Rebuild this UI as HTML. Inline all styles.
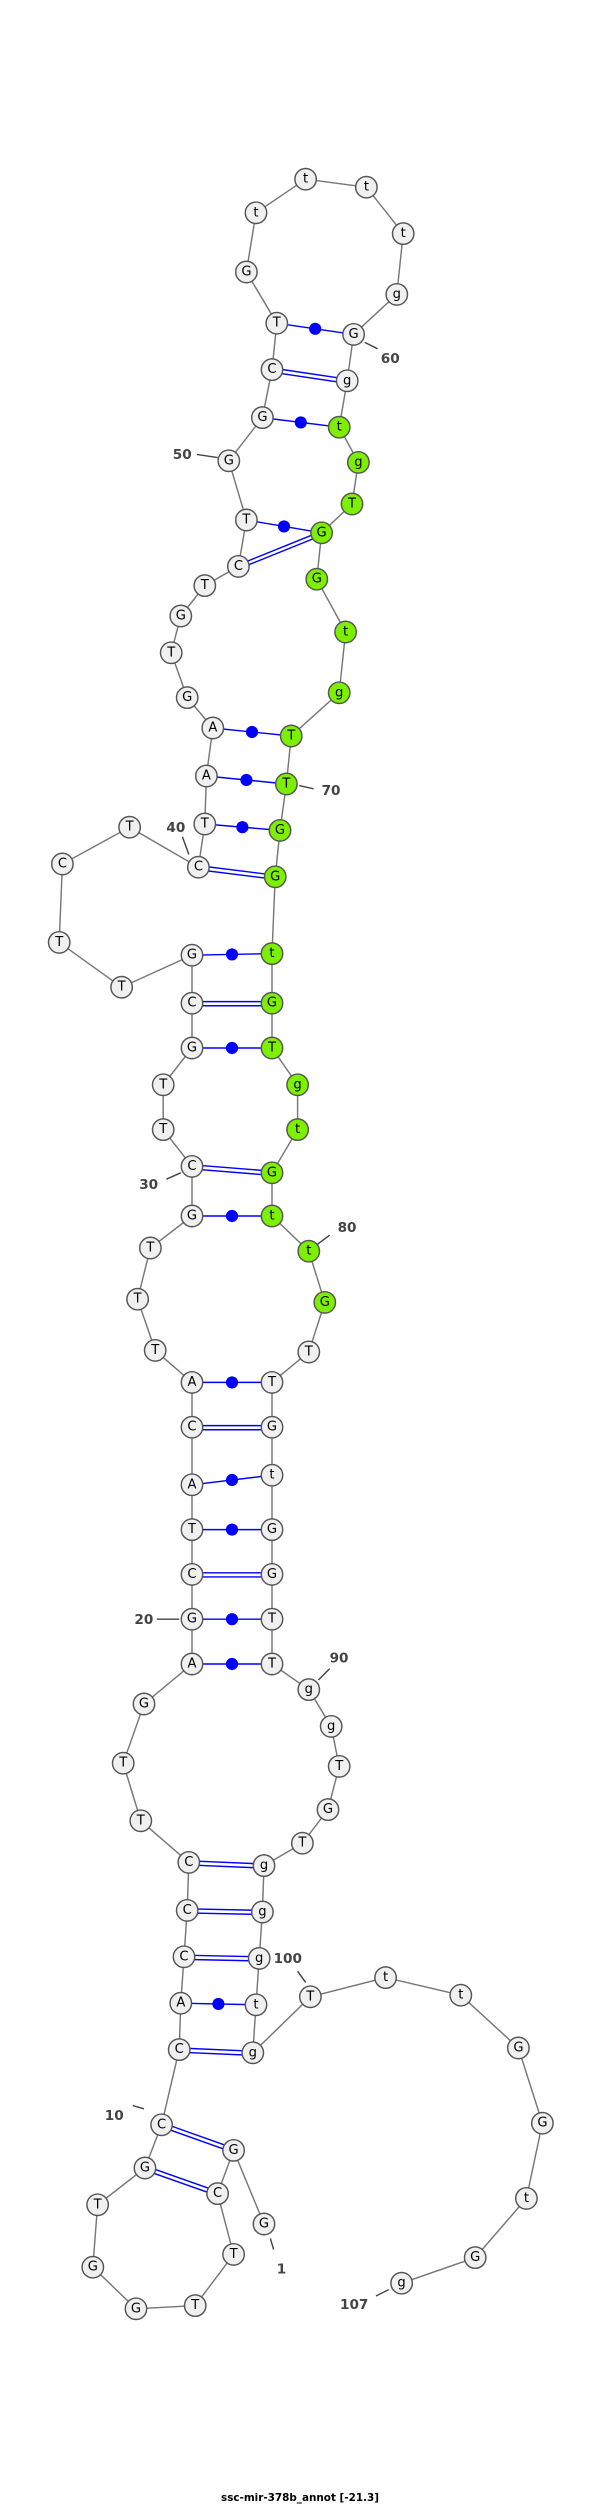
<!DOCTYPE html>
<html><head><meta charset="utf-8"><style>
html,body{margin:0;padding:0;background:#fff;width:600px;height:2506px;overflow:hidden}
svg{display:block}
.n circle{fill:#f0f0f0;stroke:#555;stroke-width:0.9}
.n circle.g{fill:#7cf000}
.n text{font-family:"DejaVu Sans","Liberation Sans",sans-serif;font-size:8.2px;fill:#000;text-anchor:middle;dominant-baseline:central}
.lb{font-family:"DejaVu Sans","Liberation Sans",sans-serif;font-size:8.5px;font-weight:bold;fill:#444}
.tk{stroke:#444;stroke-width:0.9}
.p{stroke:#0000ff;stroke-width:0.9;fill:none}
</style></head><body>
<svg width="600" height="2506" viewBox="0 0 375 1566.25" xmlns="http://www.w3.org/2000/svg">
<polyline fill="none" stroke="#777" stroke-width="0.9" points="165,1390 146,1344 136,1371 146,1409 122,1441 85,1443 58,1417 61,1378 90.6,1355 101,1328 112,1281 113,1252 115,1223 117,1194 118,1164 88,1138 77,1102 90,1065 120,1040 120,1012 120,984 120,956 120,928 120,892 120,864 97,844 86,812 94,780 120,760 120,729 102,706 102,678 120,655 120,627 120,597 76,617 37,589 39,540 81,517 124,542 128,515 129,485 133,455 117,436 107,408 113,385 128,366 149,354 154,325 143,288 164,261 170,231 173,202 154,170 160,133 191,112 229,117 252,146 248,184 221,209 217,238 212,267 224,289 220,315 201,333 198,362 216,395 212,433 182,460 179,490 175,519 172,548 170,596 170,627 170,655 186,678 186,706 170,733 170,760 193,782 203,814 193,845 170,864 170,892 170,922 170,956 170,984 170,1012 170,1040 193,1056 207,1079 212,1104 205,1131 189,1152 165,1166 164,1195 162,1224 160,1253 158,1283 194,1248 241,1236 288,1247 324,1280 339,1327 329,1374 297,1411 251,1427"/>
<g class="p">
<path d="M170,230 L217,237 M170,232.6 L217,239.6"/>
<path d="M149,353 L201,332 M149,355.6 L201,334.6"/>
<path d="M124,541 L172,547 M124,543.6 L172,549.6"/>
<path d="M120,626 L170,626 M120,628.6 L170,628.6"/>
<path d="M120,728 L170,732 M120,730.6 L170,734.6"/>
<path d="M120,891 L170,891 M120,893.6 L170,893.6"/>
<path d="M120,983 L170,983 M120,985.6 L170,985.6"/>
<path d="M118,1163 L165,1165 M118,1165.6 L165,1167.6"/>
<path d="M117,1193 L164,1194 M117,1195.6 L164,1196.6"/>
<path d="M115,1222 L162,1223 M115,1224.6 L162,1225.6"/>
<path d="M112,1280 L158,1282 M112,1282.6 L158,1284.6"/>
<path d="M101.45,1326.8 L146.45,1342.8 M100.55,1329.2 L145.55,1345.2"/>
<path d="M91.05,1353.8 L136.45,1369.8 M90.15,1356.2 L135.55,1372.2"/>
<path d="M173,202 L221,209 M164,261 L212,267 M154,325 L201,333 M133,455 L182,460 M129,485 L179,490 M128,515 L175,519 M120,597 L170,596 M120,655 L170,655 M120,760 L170,760 M120,864 L170,864 M120,928 L170,922 M120,956 L170,956 M120,1012 L170,1012 M120,1040 L170,1040 M113,1252 L160,1253"/>
</g>
<g fill="#0000ff">
<circle cx="197" cy="205.5" r="3.8"/><circle cx="188" cy="264" r="3.8"/><circle cx="177.5" cy="329" r="3.8"/>
<circle cx="157.5" cy="457.5" r="3.8"/><circle cx="154" cy="487.5" r="3.8"/><circle cx="151.5" cy="517" r="3.8"/>
<circle cx="145" cy="596.5" r="3.8"/><circle cx="145" cy="655" r="3.8"/><circle cx="145" cy="760" r="3.8"/>
<circle cx="145" cy="864" r="3.8"/><circle cx="145" cy="925" r="3.8"/><circle cx="145" cy="956" r="3.8"/>
<circle cx="145" cy="1012" r="3.8"/><circle cx="145" cy="1040" r="3.8"/><circle cx="136.5" cy="1252.5" r="3.8"/>
</g>
<g class="n">
<circle cx="165" cy="1390" r="6.7"/><text x="165" y="1390">G</text>
<circle cx="146" cy="1344" r="6.7"/><text x="146" y="1344">G</text>
<circle cx="136" cy="1371" r="6.7"/><text x="136" y="1371">C</text>
<circle cx="146" cy="1409" r="6.7"/><text x="146" y="1409">T</text>
<circle cx="122" cy="1441" r="6.7"/><text x="122" y="1441">T</text>
<circle cx="85" cy="1443" r="6.7"/><text x="85" y="1443">G</text>
<circle cx="58" cy="1417" r="6.7"/><text x="58" y="1417">G</text>
<circle cx="61" cy="1378" r="6.7"/><text x="61" y="1378">T</text>
<circle cx="90.6" cy="1355" r="6.7"/><text x="90.6" y="1355">G</text>
<circle cx="101" cy="1328" r="6.7"/><text x="101" y="1328">C</text>
<circle cx="112" cy="1281" r="6.7"/><text x="112" y="1281">C</text>
<circle cx="113" cy="1252" r="6.7"/><text x="113" y="1252">A</text>
<circle cx="115" cy="1223" r="6.7"/><text x="115" y="1223">C</text>
<circle cx="117" cy="1194" r="6.7"/><text x="117" y="1194">C</text>
<circle cx="118" cy="1164" r="6.7"/><text x="118" y="1164">C</text>
<circle cx="88" cy="1138" r="6.7"/><text x="88" y="1138">T</text>
<circle cx="77" cy="1102" r="6.7"/><text x="77" y="1102">T</text>
<circle cx="90" cy="1065" r="6.7"/><text x="90" y="1065">G</text>
<circle cx="120" cy="1040" r="6.7"/><text x="120" y="1040">A</text>
<circle cx="120" cy="1012" r="6.7"/><text x="120" y="1012">G</text>
<circle cx="120" cy="984" r="6.7"/><text x="120" y="984">C</text>
<circle cx="120" cy="956" r="6.7"/><text x="120" y="956">T</text>
<circle cx="120" cy="928" r="6.7"/><text x="120" y="928">A</text>
<circle cx="120" cy="892" r="6.7"/><text x="120" y="892">C</text>
<circle cx="120" cy="864" r="6.7"/><text x="120" y="864">A</text>
<circle cx="97" cy="844" r="6.7"/><text x="97" y="844">T</text>
<circle cx="86" cy="812" r="6.7"/><text x="86" y="812">T</text>
<circle cx="94" cy="780" r="6.7"/><text x="94" y="780">T</text>
<circle cx="120" cy="760" r="6.7"/><text x="120" y="760">G</text>
<circle cx="120" cy="729" r="6.7"/><text x="120" y="729">C</text>
<circle cx="102" cy="706" r="6.7"/><text x="102" y="706">T</text>
<circle cx="102" cy="678" r="6.7"/><text x="102" y="678">T</text>
<circle cx="120" cy="655" r="6.7"/><text x="120" y="655">G</text>
<circle cx="120" cy="627" r="6.7"/><text x="120" y="627">C</text>
<circle cx="120" cy="597" r="6.7"/><text x="120" y="597">G</text>
<circle cx="76" cy="617" r="6.7"/><text x="76" y="617">T</text>
<circle cx="37" cy="589" r="6.7"/><text x="37" y="589">T</text>
<circle cx="39" cy="540" r="6.7"/><text x="39" y="540">C</text>
<circle cx="81" cy="517" r="6.7"/><text x="81" y="517">T</text>
<circle cx="124" cy="542" r="6.7"/><text x="124" y="542">C</text>
<circle cx="128" cy="515" r="6.7"/><text x="128" y="515">T</text>
<circle cx="129" cy="485" r="6.7"/><text x="129" y="485">A</text>
<circle cx="133" cy="455" r="6.7"/><text x="133" y="455">A</text>
<circle cx="117" cy="436" r="6.7"/><text x="117" y="436">G</text>
<circle cx="107" cy="408" r="6.7"/><text x="107" y="408">T</text>
<circle cx="113" cy="385" r="6.7"/><text x="113" y="385">G</text>
<circle cx="128" cy="366" r="6.7"/><text x="128" y="366">T</text>
<circle cx="149" cy="354" r="6.7"/><text x="149" y="354">C</text>
<circle cx="154" cy="325" r="6.7"/><text x="154" y="325">T</text>
<circle cx="143" cy="288" r="6.7"/><text x="143" y="288">G</text>
<circle cx="164" cy="261" r="6.7"/><text x="164" y="261">G</text>
<circle cx="170" cy="231" r="6.7"/><text x="170" y="231">C</text>
<circle cx="173" cy="202" r="6.7"/><text x="173" y="202">T</text>
<circle cx="154" cy="170" r="6.7"/><text x="154" y="170">G</text>
<circle cx="160" cy="133" r="6.7"/><text x="160" y="133">t</text>
<circle cx="191" cy="112" r="6.7"/><text x="191" y="112">t</text>
<circle cx="229" cy="117" r="6.7"/><text x="229" y="117">t</text>
<circle cx="252" cy="146" r="6.7"/><text x="252" y="146">t</text>
<circle cx="248" cy="184" r="6.7"/><text x="248" y="184">g</text>
<circle cx="221" cy="209" r="6.7"/><text x="221" y="209">G</text>
<circle cx="217" cy="238" r="6.7"/><text x="217" y="238">g</text>
<circle class="g" cx="212" cy="267" r="6.7"/><text x="212" y="267">t</text>
<circle class="g" cx="224" cy="289" r="6.7"/><text x="224" y="289">g</text>
<circle class="g" cx="220" cy="315" r="6.7"/><text x="220" y="315">T</text>
<circle class="g" cx="201" cy="333" r="6.7"/><text x="201" y="333">G</text>
<circle class="g" cx="198" cy="362" r="6.7"/><text x="198" y="362">G</text>
<circle class="g" cx="216" cy="395" r="6.7"/><text x="216" y="395">t</text>
<circle class="g" cx="212" cy="433" r="6.7"/><text x="212" y="433">g</text>
<circle class="g" cx="182" cy="460" r="6.7"/><text x="182" y="460">T</text>
<circle class="g" cx="179" cy="490" r="6.7"/><text x="179" y="490">T</text>
<circle class="g" cx="175" cy="519" r="6.7"/><text x="175" y="519">G</text>
<circle class="g" cx="172" cy="548" r="6.7"/><text x="172" y="548">G</text>
<circle class="g" cx="170" cy="596" r="6.7"/><text x="170" y="596">t</text>
<circle class="g" cx="170" cy="627" r="6.7"/><text x="170" y="627">G</text>
<circle class="g" cx="170" cy="655" r="6.7"/><text x="170" y="655">T</text>
<circle class="g" cx="186" cy="678" r="6.7"/><text x="186" y="678">g</text>
<circle class="g" cx="186" cy="706" r="6.7"/><text x="186" y="706">t</text>
<circle class="g" cx="170" cy="733" r="6.7"/><text x="170" y="733">G</text>
<circle class="g" cx="170" cy="760" r="6.7"/><text x="170" y="760">t</text>
<circle class="g" cx="193" cy="782" r="6.7"/><text x="193" y="782">t</text>
<circle class="g" cx="203" cy="814" r="6.7"/><text x="203" y="814">G</text>
<circle cx="193" cy="845" r="6.7"/><text x="193" y="845">T</text>
<circle cx="170" cy="864" r="6.7"/><text x="170" y="864">T</text>
<circle cx="170" cy="892" r="6.7"/><text x="170" y="892">G</text>
<circle cx="170" cy="922" r="6.7"/><text x="170" y="922">t</text>
<circle cx="170" cy="956" r="6.7"/><text x="170" y="956">G</text>
<circle cx="170" cy="984" r="6.7"/><text x="170" y="984">G</text>
<circle cx="170" cy="1012" r="6.7"/><text x="170" y="1012">T</text>
<circle cx="170" cy="1040" r="6.7"/><text x="170" y="1040">T</text>
<circle cx="193" cy="1056" r="6.7"/><text x="193" y="1056">g</text>
<circle cx="207" cy="1079" r="6.7"/><text x="207" y="1079">g</text>
<circle cx="212" cy="1104" r="6.7"/><text x="212" y="1104">T</text>
<circle cx="205" cy="1131" r="6.7"/><text x="205" y="1131">G</text>
<circle cx="189" cy="1152" r="6.7"/><text x="189" y="1152">T</text>
<circle cx="165" cy="1166" r="6.7"/><text x="165" y="1166">g</text>
<circle cx="164" cy="1195" r="6.7"/><text x="164" y="1195">g</text>
<circle cx="162" cy="1224" r="6.7"/><text x="162" y="1224">g</text>
<circle cx="160" cy="1253" r="6.7"/><text x="160" y="1253">t</text>
<circle cx="158" cy="1283" r="6.7"/><text x="158" y="1283">g</text>
<circle cx="194" cy="1248" r="6.7"/><text x="194" y="1248">T</text>
<circle cx="241" cy="1236" r="6.7"/><text x="241" y="1236">t</text>
<circle cx="288" cy="1247" r="6.7"/><text x="288" y="1247">t</text>
<circle cx="324" cy="1280" r="6.7"/><text x="324" y="1280">G</text>
<circle cx="339" cy="1327" r="6.7"/><text x="339" y="1327">G</text>
<circle cx="329" cy="1374" r="6.7"/><text x="329" y="1374">t</text>
<circle cx="297" cy="1411" r="6.7"/><text x="297" y="1411">G</text>
<circle cx="251" cy="1427" r="6.7"/><text x="251" y="1427">g</text>
</g>
<g class="tk">
<line x1="83" y1="1316" x2="90" y2="1318"/>
<line x1="98" y1="1012" x2="112" y2="1012"/>
<line x1="104" y1="737" x2="113" y2="733"/>
<line x1="114" y1="523" x2="118" y2="534"/>
<line x1="123" y1="284" x2="136" y2="286"/>
<line x1="228" y1="214" x2="236" y2="218"/>
<line x1="187" y1="491" x2="196" y2="493"/>
<line x1="198" y1="778" x2="206" y2="772"/>
<line x1="199" y1="1050" x2="206" y2="1043"/>
<line x1="186" y1="1232" x2="191" y2="1239"/>
<line x1="169" y1="1399" x2="171" y2="1406"/>
<line x1="235" y1="1435" x2="243" y2="1431"/>
</g>
<g class="lb">
<text x="65.5" y="1325">10</text>
<text x="84" y="1015">20</text>
<text x="87" y="743">30</text>
<text x="104" y="520">40</text>
<text x="108" y="287">50</text>
<text x="238" y="227">60</text>
<text x="201" y="497">70</text>
<text x="211" y="770">80</text>
<text x="206" y="1039">90</text>
<text x="171" y="1227">100</text>
<text x="173" y="1421">1</text>
<text x="212.5" y="1443">107</text>
</g>
<text x="187.5" y="1563" text-anchor="middle" font-family="DejaVu Sans, Liberation Sans, sans-serif" font-size="6.5" font-weight="bold" fill="#000">ssc-mir-378b_annot [-21.3]</text>
</svg>
</body></html>
